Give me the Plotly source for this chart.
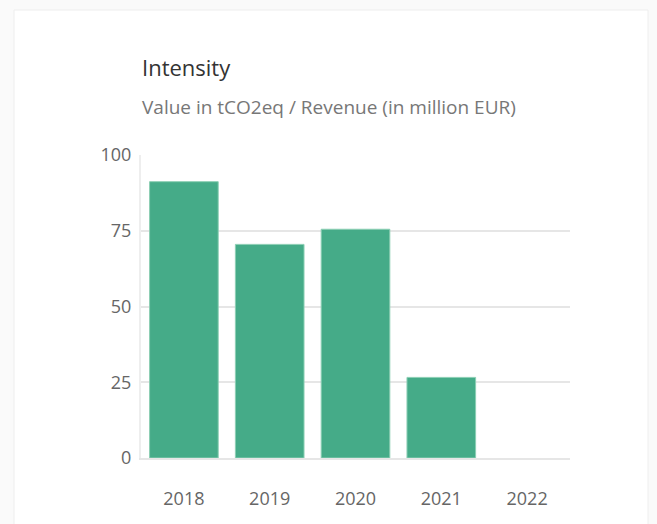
import plotly.graph_objects as go

years = ["2018", "2019", "2020", "2021", "2022"]
intensity = [91.2, 70.5, 75.5, 26.6, None]
y_ticks = [0, 25, 50, 75, 100]

# page body has an 8px margin; figure is sized to fill the rest of the window
OFF = 8
W, H = 657 - OFF, 524 - OFF
L, R, T, B = 141 - OFF, 87, 155 - OFF, 66
pw, ph = W - L - R, H - T - B

def px(x):  # viewport pixel -> paper x
    return (x - OFF - L) / pw

def py(y):  # viewport pixel -> paper y
    return (H - B - (y - OFF)) / ph

FONT = "Open Sans, sans-serif"

fig = go.Figure()
fig.add_trace(go.Bar(
    x=years, y=intensity,
    marker=dict(color="#45ab88", line=dict(color="#8ccfb4", width=1)),
    hoverinfo="x+y",
))

fig.update_layout(
    width=W, height=H,
    margin=dict(l=L, r=R, t=T, b=B),
    paper_bgcolor="#fafafa",
    plot_bgcolor="white",
    bargap=0.2,
    showlegend=False,
    font=dict(family=FONT, color="#666666", size=18),
    shapes=[
        dict(type="rect", xref="paper", yref="paper",
             x0=px(14), x1=px(648), y0=py(540), y1=py(10),
             fillcolor="white", line=dict(color="#eeeeee", width=1), layer="below"),
    ],
    annotations=[
        dict(text="Intensity", xref="paper", yref="paper", x=px(140), y=py(67),
             xanchor="left", yanchor="middle", showarrow=False,
             font=dict(family=FONT, size=22, color="#333333")),
        dict(text="Value in tCO2eq / Revenue (in million EUR)", xref="paper", yref="paper",
             x=px(140), y=py(107), xanchor="left", yanchor="middle", showarrow=False,
             font=dict(family=FONT, size=19, color="#777777")),
    ],
)
fig.update_yaxes(
    range=[0, 100], tickvals=y_ticks, showgrid=True, gridcolor="#e6e6e6", gridwidth=2,
    zeroline=False, showline=True, linecolor="#eeeeee", linewidth=2,
    ticks="", ticklabelstandoff=4, tickfont=dict(color="#666666", size=18),
    fixedrange=True,
)
fig.update_xaxes(
    showgrid=False, showline=True, linecolor="#e6e6e6", linewidth=2,
    ticks="", ticklabelstandoff=23, tickfont=dict(color="#666666", size=18),
    fixedrange=True,
)

fig.write_html("out.html", post_script="document.body.style.background='#fafafa';")
